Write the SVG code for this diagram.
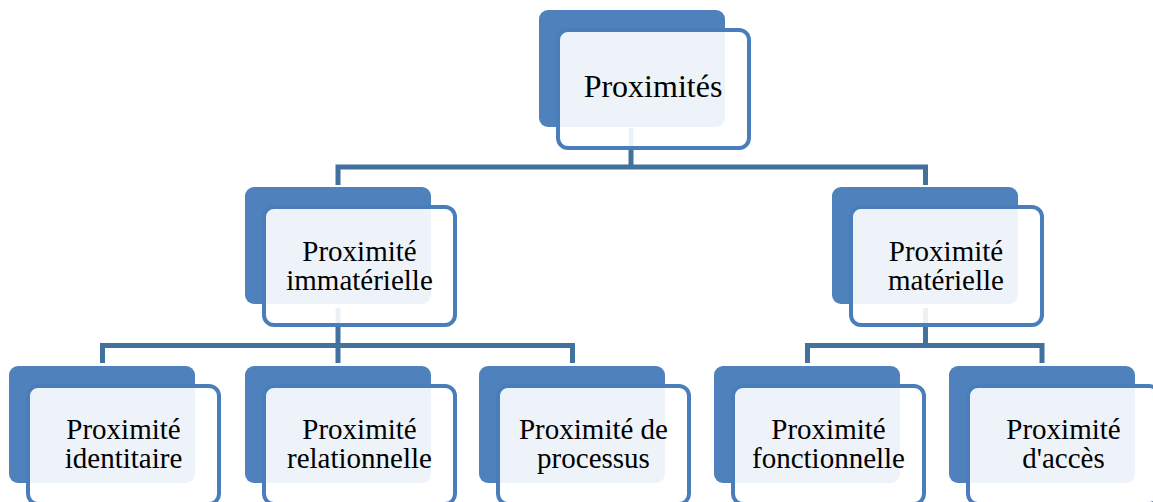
<svg xmlns="http://www.w3.org/2000/svg" width="1153" height="502" viewBox="0 0 1153 502">
<defs>
<style>
.back{fill:#4F81BD;}
.front{fill:#FFFFFF;fill-opacity:0.9;stroke:#4A7EBB;stroke-width:4;}
.conn{fill:none;stroke:#41719C;stroke-width:5;stroke-linejoin:miter;}
text{font-family:"Liberation Serif","Times New Roman",serif;fill:#000;text-anchor:middle;}
.t1{font-size:32px;}
.t2{font-size:29px;}
</style>
</defs>
<rect width="1153" height="502" fill="#FFFFFF"/>
<g id="connectors">
<path class="conn" d="M631,128 V167"/>
<path class="conn" d="M338,185 V167 H925.5 V185"/>
<path class="conn" d="M338,308 V363"/>
<path class="conn" d="M102.5,363 V345.5 H572.5 V363"/>
<path class="conn" d="M925.5,308 V345.5"/>
<path class="conn" d="M807.5,363 V345.5 H1042 V363"/>
</g>
<g id="node-proximites">
<rect class="back" x="539" y="10" width="186" height="117" rx="9"/>
<rect class="front" x="558" y="30" width="191" height="118" rx="10"/>
<text class="t1" x="653" y="97">Proximités</text>
</g>
<g id="node-immaterielle">
<rect class="back" x="245" y="187" width="186" height="117" rx="9"/>
<rect class="front" x="264" y="207" width="191" height="118" rx="10"/>
<text class="t2" x="359.5" y="261">Proximité</text>
<text class="t2" x="359.5" y="290">immatérielle</text>
</g>
<g id="node-materielle">
<rect class="back" x="832" y="187" width="186" height="117" rx="9"/>
<rect class="front" x="851" y="207" width="191" height="118" rx="10"/>
<text class="t2" x="946" y="261">Proximité</text>
<text class="t2" x="946" y="290">matérielle</text>
</g>
<g id="node-identitaire">
<rect class="back" x="9" y="366" width="186" height="117" rx="9"/>
<rect class="front" x="28" y="386" width="191" height="118" rx="10"/>
<text class="t2" x="123.5" y="439">Proximité</text>
<text class="t2" x="123.5" y="468">identitaire</text>
</g>
<g id="node-relationnelle">
<rect class="back" x="245" y="366" width="186" height="117" rx="9"/>
<rect class="front" x="264" y="386" width="191" height="118" rx="10"/>
<text class="t2" x="359.5" y="439">Proximité</text>
<text class="t2" x="359.5" y="468">relationnelle</text>
</g>
<g id="node-processus">
<rect class="back" x="479" y="366" width="186" height="117" rx="9"/>
<rect class="front" x="498" y="386" width="191" height="118" rx="10"/>
<text class="t2" x="593.5" y="439">Proximité de</text>
<text class="t2" x="593.5" y="468">processus</text>
</g>
<g id="node-fonctionnelle">
<rect class="back" x="714" y="366" width="186" height="117" rx="9"/>
<rect class="front" x="733" y="386" width="191" height="118" rx="10"/>
<text class="t2" x="828.5" y="439">Proximité</text>
<text class="t2" x="828.5" y="468">fonctionnelle</text>
</g>
<g id="node-acces">
<rect class="back" x="949" y="366" width="186" height="117" rx="9"/>
<rect class="front" x="968" y="386" width="191" height="118" rx="10"/>
<text class="t2" x="1063.5" y="439">Proximité</text>
<text class="t2" x="1063.5" y="468">d'accès</text>
</g>
</svg>
